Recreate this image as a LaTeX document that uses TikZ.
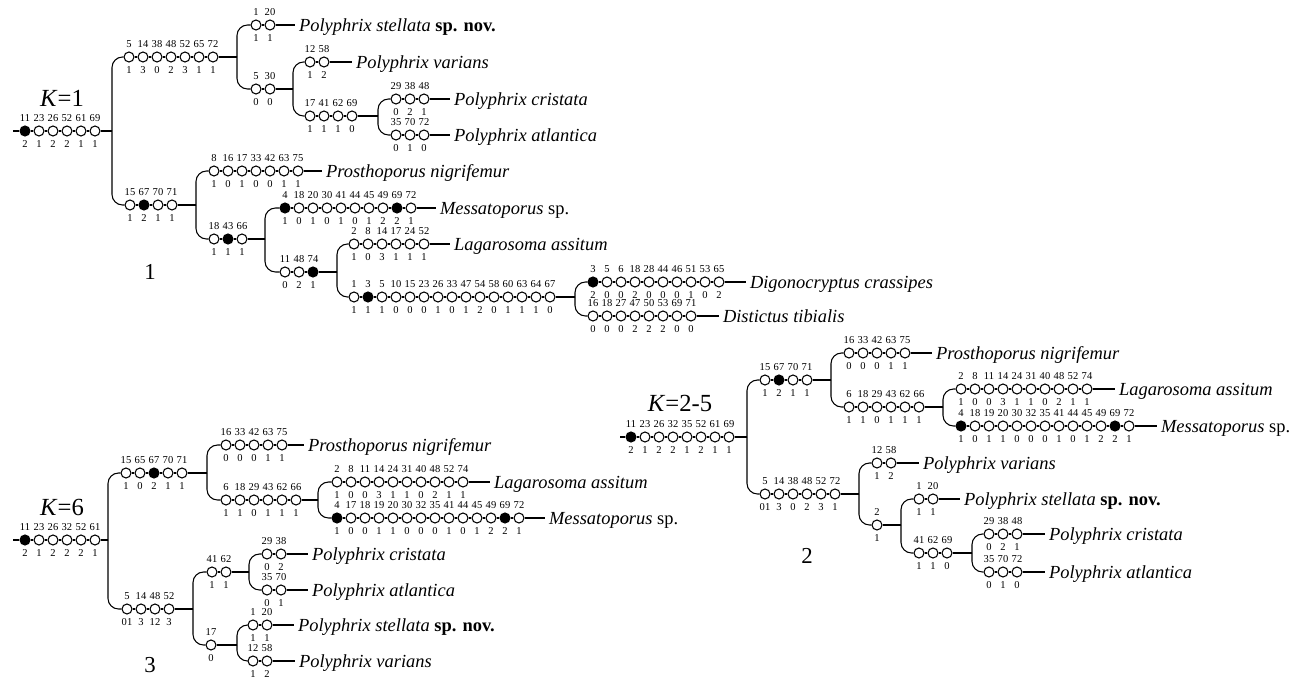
\documentclass[tikz,border=0pt]{standalone}
\usepackage{fontspec}
\setmainfont{Liberation Serif}
\usetikzlibrary{calc, positioning}

\colorlet{op}{white}
\colorlet{cl}{black}

\tikzset{
  chr/.style={circle, draw, inner sep=0pt, minimum size=0.2cm},
  numlab/.style={font=\fontsize{6}{6}\selectfont, inner sep=0pt},
  taxon/.style={anchor=west, inner sep=2pt, text height=7pt, text depth=0pt,
    font=\fontsize{10.5}{12}\selectfont},
  kval/.style={font=\fontsize{14}{16}\selectfont},
  treeno/.style={font=\fontsize{13}{15}\selectfont},
  branch/.style={rounded corners=6pt}
}

% row of character circles: name, x, y, {number/state/fill, ...}
\newcommand{\charrow}[4]{%
  \foreach \chn/\chs/\chf [count=\i] in {#4} {
    \node[chr, fill=\chf, label={[numlab]above:\chn}, label={[numlab]below:\chs}]
      (#1-\i) at ({#2+14*(\i-1)},#3) {};
    \xdef\lastidx{\i}
    \ifnum\i>1
      \pgfmathtruncatemacro{\j}{\i-1}
      \draw (#1-\j) -- (#1-\i);
    \fi
  }%
  \pgfnodealias{#1-z}{#1-\lastidx}%
}

\begin{document}
\begin{tikzpicture}[x=0.02cm, y=-0.02cm, line width=0.6pt, label distance=1.8pt]
\useasboundingbox (0,0) rectangle (1299,679);

% ===== tree 1, K=1 =====
\node[kval] (k1) at (62,98) {\textit{K}=1};
\node[treeno] (n1) at (150,272) {1};

\coordinate (a-in) at (13,131);
\charrow{a0}{25}{131}{11/2/cl, 23/1/op, 26/2/op, 52/2/op, 61/1/op, 69/1/op}
\coordinate (a0j) at (112,131);

% --- Polyphrix clade ---
\charrow{a1}{129}{57}{5/1/op, 14/3/op, 38/0/op, 48/2/op, 52/3/op, 65/1/op, 72/1/op}
\coordinate (a1j) at (237,57);
\charrow{a11}{256}{25}{1/1/op, 20/1/op}
\node[taxon] (t-a11) at (295,25) {\textit{Polyphrix stellata} \textbf{sp. nov.}};
\charrow{a12}{256}{89}{5/0/op, 30/0/op}
\coordinate (a12j) at (293,89);
\charrow{a121}{310}{62}{12/1/op, 58/2/op}
\node[taxon] (t-a121) at (352,62) {\textit{Polyphrix varians}};
\charrow{a122}{310}{116}{17/1/op, 41/1/op, 62/1/op, 69/0/op}
\coordinate (a122j) at (378,116);
\charrow{a1221}{396}{99}{29/0/op, 38/2/op, 48/1/op}
\node[taxon] (t-a1221) at (450,99) {\textit{Polyphrix cristata}};
\charrow{a1222}{396}{135}{35/0/op, 70/1/op, 72/0/op}
\node[taxon] (t-a1222) at (450,135) {\textit{Polyphrix atlantica}};

% --- other genera ---
\charrow{a2}{130}{205}{15/1/op, 67/2/cl, 70/1/op, 71/1/op}
\coordinate (a2j) at (196,205);
\charrow{a21}{214}{171}{8/1/op, 16/0/op, 17/1/op, 33/0/op, 42/0/op, 63/1/op, 75/1/op}
\node[taxon] (t-a21) at (322,171) {\textit{Prosthoporus nigrifemur}};
\charrow{a22}{214}{239}{18/1/op, 43/1/cl, 66/1/op}
\coordinate (a22j) at (265,239);
\charrow{a221}{285}{208}{4/1/cl, 18/0/op, 20/1/op, 30/0/op, 41/1/op, 44/0/op, 45/1/op, 49/2/op, 69/2/cl, 72/1/op}
\node[taxon] (t-a221) at (436,208) {\textit{Messatoporus} sp.};
\charrow{a222}{285}{272}{11/0/op, 48/2/op, 74/1/cl}
\coordinate (a222j) at (337,272);
\charrow{a2221}{354}{244}{2/1/op, 8/0/op, 14/3/op, 17/1/op, 24/1/op, 52/1/op}
\node[taxon] (t-a2221) at (450,244) {\textit{Lagarosoma assitum}};
\charrow{a2222}{354}{297}{1/1/op, 3/1/cl, 5/1/op, 10/0/op, 15/0/op, 23/0/op, 26/1/op, 33/0/op, 47/1/op, 54/2/op, 58/0/op, 60/1/op, 63/1/op, 64/1/op, 67/0/op}
\coordinate (a2222j) at (575,297);
\charrow{a22221}{593}{282}{3/2/cl, 5/0/op, 6/0/op, 18/2/op, 28/0/op, 44/0/op, 46/0/op, 51/1/op, 53/0/op, 65/2/op}
\node[taxon] (t-a22221) at (746,282) {\textit{Digonocryptus crassipes}};
\charrow{a22222}{593}{316}{16/0/op, 18/0/op, 27/0/op, 47/2/op, 50/2/op, 53/2/op, 69/0/op, 71/0/op}
\node[taxon] (t-a22222) at (719,316) {\textit{Distictus tibialis}};

\draw (a-in) -- (a0-1);
\draw (a0-z) -- (a0j);
\draw[branch] (a0j) |- (a1-1);
\draw[branch] (a0j) |- (a2-1);
\draw (a1-z) -- (a1j);
\draw[branch] (a1j) |- (a11-1);
\draw[branch] (a1j) |- (a12-1);
\draw (a11-z) -- (t-a11);
\draw (a12-z) -- (a12j);
\draw[branch] (a12j) |- (a121-1);
\draw[branch] (a12j) |- (a122-1);
\draw (a121-z) -- (t-a121);
\draw (a122-z) -- (a122j);
\draw[branch] (a122j) |- (a1221-1);
\draw[branch] (a122j) |- (a1222-1);
\draw (a1221-z) -- (t-a1221);
\draw (a1222-z) -- (t-a1222);
\draw (a2-z) -- (a2j);
\draw[branch] (a2j) |- (a21-1);
\draw[branch] (a2j) |- (a22-1);
\draw (a21-z) -- (t-a21);
\draw (a22-z) -- (a22j);
\draw[branch] (a22j) |- (a221-1);
\draw[branch] (a22j) |- (a222-1);
\draw (a221-z) -- (t-a221);
\draw (a222-z) -- (a222j);
\draw[branch] (a222j) |- (a2221-1);
\draw[branch] (a222j) |- (a2222-1);
\draw (a2221-z) -- (t-a2221);
\draw (a2222-z) -- (a2222j);
\draw[branch] (a2222j) |- (a22221-1);
\draw[branch] (a2222j) |- (a22222-1);
\draw (a22221-z) -- (t-a22221);
\draw (a22222-z) -- (t-a22222);

% ===== tree 2, K=2-5 =====
\node[kval] (k2) at (680,403) {\textit{K}=2-5};
\node[treeno] (n2) at (807,556) {2};

\coordinate (b-in) at (620,437);
\charrow{b0}{631}{437}{11/2/cl, 23/1/op, 26/2/op, 32/2/op, 35/1/op, 52/2/op, 61/1/op, 69/1/op}
\coordinate (b0j) at (747,437);

% --- other genera ---
\charrow{b1}{765}{380}{15/1/op, 67/2/cl, 70/1/op, 71/1/op}
\coordinate (b1j) at (831,380);
\charrow{b11}{849}{353}{16/0/op, 33/0/op, 42/0/op, 63/1/op, 75/1/op}
\node[taxon] (t-b11) at (932,353) {\textit{Prosthoporus nigrifemur}};
\charrow{b12}{849}{407}{6/1/op, 18/1/op, 29/0/op, 43/1/op, 62/1/op, 66/1/op}
\coordinate (b12j) at (943,407);
\charrow{b121}{961}{389}{2/1/op, 8/0/op, 11/0/op, 14/3/op, 24/1/op, 31/1/op, 40/0/op, 48/2/op, 52/1/op, 74/1/op}
\node[taxon] (t-b121) at (1115,389) {\textit{Lagarosoma assitum}};
\charrow{b122}{961}{426}{4/1/cl, 18/0/op, 19/1/op, 20/1/op, 30/0/op, 32/0/op, 35/0/op, 41/1/op, 44/0/op, 45/1/op, 49/2/op, 69/2/cl, 72/1/op}
\node[taxon] (t-b122) at (1157,426) {\textit{Messatoporus} sp.};

% --- Polyphrix clade ---
\charrow{b2}{765}{494}{5/01/op, 14/3/op, 38/0/op, 48/2/op, 52/3/op, 72/1/op}
\coordinate (b2j) at (859,494);
\charrow{b21}{877}{463}{12/1/op, 58/2/op}
\node[taxon] (t-b21) at (919,463) {\textit{Polyphrix varians}};
\charrow{b22}{877}{525}{2/1/op}
\coordinate (b22j) at (901,525);
\charrow{b221}{919}{499}{1/1/op, 20/1/op}
\node[taxon] (t-b221) at (960,499) {\textit{Polyphrix stellata} \textbf{sp. nov.}};
\charrow{b222}{919}{553}{41/1/op, 62/1/op, 69/0/op}
\coordinate (b222j) at (972,553);
\charrow{b2221}{989}{534}{29/0/op, 38/2/op, 48/1/op}
\node[taxon] (t-b2221) at (1045,534) {\textit{Polyphrix cristata}};
\charrow{b2222}{989}{572}{35/0/op, 70/1/op, 72/0/op}
\node[taxon] (t-b2222) at (1045,572) {\textit{Polyphrix atlantica}};

\draw (b-in) -- (b0-1);
\draw (b0-z) -- (b0j);
\draw[branch] (b0j) |- (b1-1);
\draw[branch] (b0j) |- (b2-1);
\draw (b1-z) -- (b1j);
\draw[branch] (b1j) |- (b11-1);
\draw[branch] (b1j) |- (b12-1);
\draw (b11-z) -- (t-b11);
\draw (b12-z) -- (b12j);
\draw[branch] (b12j) |- (b121-1);
\draw[branch] (b12j) |- (b122-1);
\draw (b121-z) -- (t-b121);
\draw (b122-z) -- (t-b122);
\draw (b2-z) -- (b2j);
\draw[branch] (b2j) |- (b21-1);
\draw[branch] (b2j) |- (b22-1);
\draw (b21-z) -- (t-b21);
\draw (b22-z) -- (b22j);
\draw[branch] (b22j) |- (b221-1);
\draw[branch] (b22j) |- (b222-1);
\draw (b221-z) -- (t-b221);
\draw (b222-z) -- (b222j);
\draw[branch] (b222j) |- (b2221-1);
\draw[branch] (b222j) |- (b2222-1);
\draw (b2221-z) -- (t-b2221);
\draw (b2222-z) -- (t-b2222);

% ===== tree 3, K=6 =====
\node[kval] (k3) at (62,507) {\textit{K}=6};
\node[treeno] (n3) at (150,665) {3};

\coordinate (c-in) at (13,540);
\charrow{c0}{25}{540}{11/2/cl, 23/1/op, 26/2/op, 32/2/op, 52/2/op, 61/1/op}
\coordinate (c0j) at (108,540);

% --- other genera ---
\charrow{c1}{126}{473}{15/1/op, 65/0/op, 67/2/cl, 70/1/op, 71/1/op}
\coordinate (c1j) at (207,473);
\charrow{c11}{226}{445}{16/0/op, 33/0/op, 42/0/op, 63/1/op, 75/1/op}
\node[taxon] (t-c11) at (304,445) {\textit{Prosthoporus nigrifemur}};
\charrow{c12}{226}{500}{6/1/op, 18/1/op, 29/0/op, 43/1/op, 62/1/op, 66/1/op}
\coordinate (c12j) at (318,500);
\charrow{c121}{337}{482}{2/1/op, 8/0/op, 11/0/op, 14/3/op, 24/1/op, 31/1/op, 40/0/op, 48/2/op, 52/1/op, 74/1/op}
\node[taxon] (t-c121) at (490,482) {\textit{Lagarosoma assitum}};
\charrow{c122}{337}{518}{4/1/cl, 17/0/op, 18/0/op, 19/1/op, 20/1/op, 30/0/op, 32/0/op, 35/0/op, 41/1/op, 44/0/op, 45/1/op, 49/2/op, 69/2/cl, 72/1/op}
\node[taxon] (t-c122) at (545,518) {\textit{Messatoporus} sp.};

% --- Polyphrix clade ---
\charrow{c2}{127}{609}{5/01/op, 14/3/op, 48/12/op, 52/3/op}
\coordinate (c2j) at (193,609);
\charrow{c21}{212}{572}{41/1/op, 62/1/op}
\coordinate (c21j) at (249,572);
\charrow{c211}{267}{554}{29/0/op, 38/2/op}
\node[taxon] (t-c211) at (308,554) {\textit{Polyphrix cristata}};
\charrow{c212}{267}{590}{35/0/op, 70/1/op}
\node[taxon] (t-c212) at (308,590) {\textit{Polyphrix atlantica}};
\charrow{c22}{211}{645}{17/0/op}
\coordinate (c22j) at (237,645);
\charrow{c221}{253}{625}{1/1/op, 20/1/op}
\node[taxon] (t-c221) at (294,625) {\textit{Polyphrix stellata} \textbf{sp. nov.}};
\charrow{c222}{253}{661}{12/1/op, 58/2/op}
\node[taxon] (t-c222) at (295,661) {\textit{Polyphrix varians}};

\draw (c-in) -- (c0-1);
\draw (c0-z) -- (c0j);
\draw[branch] (c0j) |- (c1-1);
\draw[branch] (c0j) |- (c2-1);
\draw (c1-z) -- (c1j);
\draw[branch] (c1j) |- (c11-1);
\draw[branch] (c1j) |- (c12-1);
\draw (c11-z) -- (t-c11);
\draw (c12-z) -- (c12j);
\draw[branch] (c12j) |- (c121-1);
\draw[branch] (c12j) |- (c122-1);
\draw (c121-z) -- (t-c121);
\draw (c122-z) -- (t-c122);
\draw (c2-z) -- (c2j);
\draw[branch] (c2j) |- (c21-1);
\draw[branch] (c2j) |- (c22-1);
\draw (c21-z) -- (c21j);
\draw[branch] (c21j) |- (c211-1);
\draw[branch] (c21j) |- (c212-1);
\draw (c211-z) -- (t-c211);
\draw (c212-z) -- (t-c212);
\draw (c22-z) -- (c22j);
\draw[branch] (c22j) |- (c221-1);
\draw[branch] (c22j) |- (c222-1);
\draw (c221-z) -- (t-c221);
\draw (c222-z) -- (t-c222);

\end{tikzpicture}
\end{document}
